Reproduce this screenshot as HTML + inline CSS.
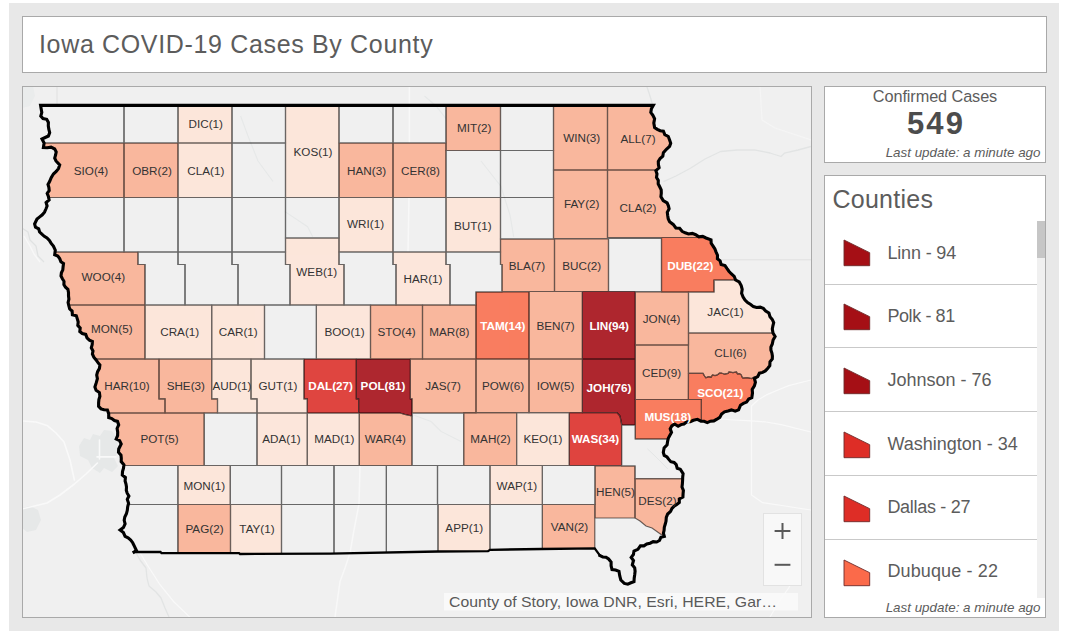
<!DOCTYPE html>
<html><head><meta charset="utf-8"><title>Iowa COVID-19 Cases By County</title>
<style>
html,body{margin:0;padding:0;}
body{width:1067px;height:637px;background:#fff;position:relative;overflow:hidden;font-family:"Liberation Sans",sans-serif;color:#4c4c4c;}
#bg{position:absolute;left:9px;top:3px;width:1050px;height:628px;background:#e8e8e8;}
.box{position:absolute;background:#fff;border:1px solid #a9a9a9;box-sizing:border-box;overflow:hidden;}
#title{left:22px;top:16px;width:1025px;height:57px;}
#title span{position:absolute;left:16px;top:12px;font-size:25px;line-height:30px;white-space:nowrap;color:#5c5c5c;letter-spacing:0.66px;}
#map{left:22px;top:86px;width:790px;height:532px;background:#f0f0f0;}
#cases{left:824px;top:86px;width:222px;height:77px;text-align:center;}
#cases .h{position:absolute;left:0;width:220px;top:0px;font-size:16.3px;line-height:18px;color:#5c5c5c;letter-spacing:-0.1px;}
#cases .n{position:absolute;left:0;width:220px;top:19px;font-size:31px;line-height:36px;font-weight:bold;color:#4c4c4c;letter-spacing:2.1px;text-indent:2.1px;}
.upd{position:absolute;right:4.5px;font-size:13.4px;line-height:14px;font-style:italic;color:#5c5c5c;white-space:nowrap;}
#list{left:824px;top:175px;width:222px;height:443px;}
#list .hd{position:absolute;left:7.5px;top:7.8px;font-size:25px;line-height:30px;color:#5c5c5c;letter-spacing:0.25px;}
.sep{position:absolute;left:0;width:212px;height:1px;background:#c9c9c9;}
.rt{position:absolute;left:62.4px;font-size:18px;line-height:22px;color:#5c5c5c;white-space:nowrap;letter-spacing:-0.15px;}
#track{position:absolute;left:212px;top:45px;width:8px;height:377px;background:#f0f0f0;}
#thumb{position:absolute;left:212px;top:45px;width:8px;height:37px;background:#c6c6c6;}
</style></head><body>
<div id="bg"></div>
<div class="box" id="title"><span>Iowa COVID-19 Cases By County</span></div>
<div class="box" id="map">
<div style="position:absolute;left:-1px;top:-1px;width:789px;height:531px;"><svg width="789" height="531" viewBox="22 86 789 531" style="position:absolute;left:0;top:0">
<defs><clipPath id="st"><polygon points="40.6,105.4 41.2,108.9 41.8,112.4 40.8,116.0 43.0,118.5 46.7,119.3 48.4,122.4 48.3,125.8 48.8,129.2 49.7,132.6 48.4,136.0 45.2,137.5 42.0,139.0 44.1,143.0 43.4,147.5 47.2,147.8 51.1,147.2 54.7,149.0 56.2,151.9 55.6,155.0 54.7,158.1 56.0,161.0 59.7,165.0 58.5,168.6 56.2,171.5 53.4,174.0 51.2,177.6 49.6,181.5 48.0,184.4 48.9,187.5 49.2,190.5 47.2,193.4 48.4,196.5 49.1,199.9 46.1,202.5 47.1,206.0 45.9,209.0 44.5,212.2 42.3,214.8 39.7,216.9 37.0,219.0 34.6,224.0 35.5,227.2 38.7,228.8 39.6,232.0 41.9,234.2 44.3,236.3 47.0,238.0 49.4,240.4 51.2,243.4 53.4,246.0 55.3,250.2 54.7,254.8 57.8,256.1 59.7,258.6 60.9,261.8 63.5,263.6 63.1,266.7 62.8,269.9 61.4,272.8 61.0,276.0 62.4,278.7 64.0,281.3 63.9,284.6 65.5,287.2 67.9,289.4 68.5,292.5 68.5,295.8 68.9,299.1 68.1,302.4 68.8,305.7 69.7,308.9 72.1,311.0 72.4,314.8 76.3,315.7 77.3,318.9 78.2,322.0 77.8,325.4 80.2,328.1 79.8,331.5 82.3,333.5 85.7,334.4 87.0,337.9 89.4,340.1 92.4,341.5 92.2,344.6 91.3,347.8 93.0,350.9 92.4,354.0 93.8,357.1 95.9,359.7 97.8,362.4 99.9,365.0 99.4,368.4 97.6,371.7 96.7,375.0 97.4,378.7 96.2,382.9 94.9,387.0 96.1,390.3 99.4,392.6 99.9,396.3 98.9,399.6 98.6,402.9 98.6,406.3 101.0,408.9 104.1,409.7 107.4,410.0 108.7,413.7 108.7,417.6 111.8,418.6 114.4,420.6 117.5,421.4 118.7,425.0 117.1,428.4 117.7,432.0 117.6,435.6 116.2,439.0 119.6,440.6 121.2,444.0 118.7,449.0 118.5,452.3 121.0,455.1 121.3,458.3 121.2,461.6 123.9,464.8 123.5,468.3 122.5,471.6 122.3,475.0 125.4,477.5 125.1,481.0 126.0,484.0 126.5,487.0 126.3,490.3 127.2,493.2 128.9,496.0 127.3,499.4 128.6,503.2 127.7,506.7 127.3,510.3 126.4,513.8 124.8,517.0 124.2,520.3 125.1,523.8 123.4,527.6 120.1,530.0 123.4,532.6 125.1,536.4 128.1,537.9 130.7,540.0 132.7,542.7 134.6,546.6 136.4,550.5 134.0,552.0 160.5,552.0 161.5,553.2 239.0,553.2 240.0,554.0 330.0,553.6 438.0,551.5 488.0,551.2 490.0,549.8 542.0,549.0 594.7,548.3 600.0,555.6 602.8,557.0 606.0,557.2 608.6,559.0 611.1,562.0 611.1,565.9 612.0,569.5 615.6,570.0 619.0,571.3 619.7,575.7 620.8,580.0 624.3,583.4 627.8,584.2 630.9,582.8 634.0,581.7 634.2,578.2 634.7,574.8 635.1,571.3 634.7,567.8 632.3,564.8 633.5,560.5 631.2,557.4 633.4,554.5 634.0,551.0 637.9,549.3 640.4,545.8 643.9,545.9 646.8,544.0 650.1,543.2 653.2,541.6 656.7,542.0 659.5,540.5 661.0,537.2 664.3,536.4 663.4,533.2 664.1,530.3 664.3,527.2 665.2,524.3 666.0,521.3 666.3,517.4 667.7,514.0 670.6,511.3 672.0,508.4 674.1,506.1 676.8,504.4 679.3,502.5 679.3,499.0 682.9,497.1 683.1,493.7 683.4,490.4 682.0,487.0 682.4,483.6 682.6,480.3 682.7,477.0 683.1,473.6 680.3,469.2 677.2,468.2 676.2,464.6 674.1,462.4 670.8,461.7 668.8,459.4 667.0,457.0 664.2,455.4 663.3,452.3 664.1,448.0 667.1,444.7 667.6,441.4 668.3,438.2 669.9,435.3 671.5,432.4 670.2,428.8 671.8,425.9 674.6,424.0 678.1,426.3 681.0,424.6 684.0,424.0 686.7,421.8 690.3,421.7 693.4,420.3 697.4,419.3 701.0,421.2 704.1,421.3 707.3,422.6 710.4,421.2 713.9,420.9 716.9,419.2 719.8,417.4 721.6,414.1 724.5,411.8 728.0,410.9 731.4,409.9 735.2,411.2 738.6,409.9 740.5,405.2 743.4,403.4 746.6,402.1 748.7,399.1 751.8,397.7 752.5,393.0 752.2,389.3 754.4,385.9 755.4,382.3 754.4,378.5 757.7,376.6 759.4,373.2 762.6,372.4 765.3,370.9 767.6,368.5 769.8,365.7 770.0,361.8 772.3,359.0 772.4,356.0 771.9,353.0 770.9,350.0 770.9,347.0 772.3,344.0 773.1,340.0 775.1,336.5 773.0,333.0 772.3,329.0 772.9,325.8 773.7,322.7 772.3,319.5 770.0,316.8 768.9,313.0 765.7,311.0 763.3,308.4 760.2,307.1 756.5,307.5 753.4,306.6 750.7,304.5 747.6,302.6 745.0,300.1 743.1,297.0 741.6,293.3 742.2,289.3 741.2,285.6 739.2,282.0 735.6,280.0 734.2,276.3 731.2,273.7 728.9,271.2 726.9,268.4 725.0,265.6 721.1,264.5 720.1,260.9 717.4,258.7 717.5,255.2 716.1,252.1 714.9,249.0 713.1,246.1 711.2,243.3 711.0,239.8 706.0,238.0 702.7,236.4 698.9,236.9 695.7,234.7 692.3,233.4 688.5,234.0 685.2,232.8 682.1,231.3 679.6,228.3 675.9,228.0 673.2,224.4 669.6,221.7 668.2,218.7 667.7,215.5 667.3,212.4 669.1,208.9 668.4,205.8 667.1,202.8 663.2,200.5 660.9,196.6 661.3,193.2 661.2,189.9 659.7,186.8 658.2,183.8 658.3,180.4 656.5,177.4 657.0,174.0 655.9,170.7 659.1,167.8 658.4,164.6 658.3,161.4 660.1,158.5 662.8,156.2 663.4,152.6 666.4,149.3 669.6,146.3 670.7,143.2 669.6,140.0 668.3,136.5 664.8,134.6 663.4,131.2 660.2,130.7 657.3,129.3 654.6,127.5 653.8,123.1 654.6,118.7 652.9,115.4 650.8,112.4 651.4,108.7 653.3,105.4"/></clipPath></defs>
<rect x="22" y="86" width="789" height="531" fill="#f0f0f0"/>
<g fill="#e6e8e8" stroke="none"><path d="M79 446 L84 438 L90 440 L93 434 L100 436 L104 430 L112 431 L117 438 L118 452 L114 458 L118 466 L112 472 L104 468 L100 473 L92 468 L88 460 L80 456 Z"/><path d="M22 508 L30 506 L38 510 L41 520 L36 530 L27 532 L22 528 Z"/><path d="M22 86 L33 86 L35 96 L30 106 L22 108 Z" fill="#eaecec"/></g>
<g fill="none" stroke="#e2e4e4" stroke-width="1.3" stroke-linejoin="round"><path d="M135 551 L140 560 L146 568 L147 578 L149 586 L156 592 L161 598 L165 608 L169 617"/><path d="M57 86 L57 105" stroke="#e4e4e4"/><path d="M646.7 86 L650 96 L652.8 105.5"/><path d="M663.5 181.7 L676 176 L690.4 168.3 L705 159 L720.6 151.5 L737 150 L754.2 149.8 L770 153 L781 156.5 L784.4 153.2 L798 150 L811 146.5"/><path d="M719 259.7 L811 259.7" stroke="#e5e5e5" stroke-width="1.6"/><path d="M22 228 L28 232 L30 240 L36 246 L38 256 L44 262" stroke="#e0e2e2"/><path d="M24 236 L30 246 L34 254 L40 262" stroke="#f8f8f8"/><path d="M647.4 448.8 L655 456 L662 463 L667.9 469" stroke="#e4e6e6" stroke-width="1"/></g>
<g fill="none" stroke="#f9f9f9" stroke-width="1.6" stroke-linejoin="round" stroke-linecap="round"><path d="M97.4 463 L86 474 L74.4 484 L60 495 L47 503 L22 509"/><path d="M22 421 L36 422 L47 425.4 L56 433 L64 442 L70 460 L74.4 480"/><path d="M99.5 440 L99.5 459 M97 456.9 L116 456.9"/><path d="M139 551 L148 566 L160 584.7 L174 602 L189.6 617" stroke-width="1.2"/><path d="M751.5 406 L758 400 L766.4 394.9 L778 390 L788.7 385.6 L811 380" stroke-width="1.2"/><path d="M720 419 L735 420 L751.5 420.9 L766 422 L781.3 424.6 L811 432" stroke-width="1.2"/><path d="M751.5 406 L751.5 495 L762.7 502.7 L785 506 L811 510" stroke-width="1.2"/><path d="M770 617 L780 600 L788.7 588 L796 573 L800 560" stroke-width="1.2"/><path d="M760 86 L762 120 L775 128 L811 140" stroke="#f5f5f5" stroke-width="1.2"/></g>
<g fill="none" stroke="#f8f8f8" stroke-width="1.5" clip-path="url(#st)"><path d="M409.4 86 L409.4 143 M409 197.5 L408 252"/><path d="M360 466 L359 504 L354 530 L350 553"/></g>
<path d="M350 553 L345 568 L340 581.6 L335 617" fill="none" stroke="#f8f8f8" stroke-width="1.5"/>
<path d="M409.4 86 L409.4 105" fill="none" stroke="#f8f8f8" stroke-width="1.5"/>
<g fill="none" stroke="#e6e8e8" stroke-width="1.1"><path d="M240.6 116 L248 136 L258 161 L273 181.5"/><path d="M285 211.6 L307.6 226.7 L312.7 236.8"/><path d="M424.5 96 L436 106 L446 118.7"/><path d="M481 161 L501 186.5 L510 215 L513.7 236.8"/><path d="M413.4 415 L431 421.4 L441 431.4 L461 441.5"/></g>
<g clip-path="url(#st)">
<polygon points="178.0,80.0 232.0,80.0 232.0,143.0 178.0,143.0" fill="#fce6db"/>
<polygon points="285.5,80.0 339.0,80.0 339.0,197.5 285.5,197.5" fill="#fce6db"/>
<polygon points="446.0,80.0 500.5,80.0 500.5,150.5 446.0,150.5" fill="#f9b79d"/>
<polygon points="553.5,80.0 607.5,80.0 607.5,170.0 553.5,170.0" fill="#f9b79d"/>
<polygon points="607.5,80.0 830.0,80.0 830.0,170.0 607.5,170.0" fill="#f9b79d"/>
<polygon points="-20.0,143.0 124.0,143.0 124.0,197.5 -20.0,197.5" fill="#f9b79d"/>
<polygon points="124.0,143.0 178.0,143.0 178.0,197.5 124.0,197.5" fill="#f9b79d"/>
<polygon points="178.0,143.0 232.0,143.0 232.0,197.5 178.0,197.5" fill="#fce6db"/>
<polygon points="339.0,143.0 393.0,143.0 393.0,197.5 339.0,197.5" fill="#f9b79d"/>
<polygon points="393.0,143.0 446.0,143.0 446.0,197.5 393.0,197.5" fill="#f9b79d"/>
<polygon points="553.5,170.0 607.5,170.0 607.5,238.5 553.5,238.5" fill="#f9b79d"/>
<polygon points="607.5,170.0 830.0,170.0 830.0,237.5 607.5,237.5" fill="#f9b79d"/>
<polygon points="339.0,197.5 393.0,197.5 393.0,252.0 339.0,252.0" fill="#fce6db"/>
<polygon points="446.0,197.5 500.5,197.5 500.5,252.0 446.0,252.0" fill="#fce6db"/>
<polygon points="-20.0,252.0 138.0,252.0 138.0,264.5 145.0,264.5 145.0,305.0 -20.0,305.0" fill="#f9b79d"/>
<polygon points="285.5,238.0 339.0,238.0 339.0,264.5 344.0,264.5 344.0,305.0 290.0,305.0 290.0,264.5 285.5,264.5" fill="#fce6db"/>
<polygon points="393.0,252.0 446.0,252.0 446.0,264.5 450.0,264.5 450.0,305.0 396.0,305.0 396.0,264.5 393.0,264.5" fill="#fce6db"/>
<polygon points="500.5,239.0 554.5,239.0 554.5,291.5 502.0,291.5 502.0,264.5 500.5,264.5" fill="#f9b79d"/>
<polygon points="554.5,239.0 608.5,239.0 608.5,291.5 554.5,291.5" fill="#f9b79d"/>
<polygon points="661.5,237.5 830.0,237.5 830.0,280.0 714.0,280.0 714.0,292.0 661.5,292.0" fill="#f97d60"/>
<polygon points="688.5,292.0 714.0,292.0 714.0,280.0 830.0,280.0 830.0,333.0 688.5,333.0" fill="#fce6db"/>
<polygon points="-20.0,305.0 145.0,305.0 145.0,359.0 -20.0,359.0" fill="#f9b79d"/>
<polygon points="145.0,305.0 211.7,305.0 211.7,359.0 145.0,359.0" fill="#fce6db"/>
<polygon points="211.7,305.0 264.5,305.0 264.5,359.0 211.7,359.0" fill="#fce6db"/>
<polygon points="316.4,305.0 370.5,305.0 370.5,359.0 316.4,359.0" fill="#fce6db"/>
<polygon points="370.5,305.0 422.5,305.0 422.5,359.0 370.5,359.0" fill="#f9b79d"/>
<polygon points="422.5,305.0 476.0,305.0 476.0,359.0 422.5,359.0" fill="#f9b79d"/>
<polygon points="476.0,292.0 529.0,292.0 529.0,359.0 476.0,359.0" fill="#f97d60"/>
<polygon points="529.0,291.5 582.4,291.5 582.4,359.0 529.0,359.0" fill="#f9b79d"/>
<polygon points="582.4,291.5 635.3,291.5 635.3,359.0 582.4,359.0" fill="#ae272f"/>
<polygon points="635.3,292.0 688.5,292.0 688.5,345.0 635.3,345.0" fill="#f9b79d"/>
<polygon points="-20.0,359.0 159.0,359.0 159.0,398.8 165.0,398.8 165.0,413.0 -20.0,413.0" fill="#f9b79d"/>
<polygon points="159.0,359.0 211.7,359.0 211.7,398.8 217.5,398.8 217.5,413.0 165.0,413.0 165.0,398.8 159.0,398.8" fill="#f9b79d"/>
<polygon points="211.7,359.0 251.0,359.0 251.0,398.8 257.0,398.8 257.0,413.0 217.5,413.0 217.5,398.8 211.7,398.8" fill="#fce6db"/>
<polygon points="251.0,359.0 304.0,359.0 304.0,398.8 307.3,398.8 307.3,413.0 257.0,413.0 257.0,398.8 251.0,398.8" fill="#fce6db"/>
<polygon points="304.0,359.0 356.3,359.0 356.3,398.8 358.6,398.8 358.6,413.0 307.3,413.0 307.3,398.8 304.0,398.8" fill="#df4540"/>
<polygon points="356.3,359.0 410.4,359.0 410.4,398.8 412.0,398.8 412.0,416.0 405.0,414.5 400.0,413.0 358.6,413.0 358.6,398.8 356.3,398.8" fill="#ae272f"/>
<polygon points="410.4,359.0 476.0,359.0 476.0,413.0 412.0,413.0 412.0,398.8 410.4,398.8" fill="#f9b79d"/>
<polygon points="476.0,359.0 529.0,359.0 529.0,412.6 476.0,412.6" fill="#f9b79d"/>
<polygon points="529.0,359.0 582.4,359.0 582.4,412.6 529.0,412.6" fill="#f9b79d"/>
<polygon points="582.4,359.0 635.3,359.0 635.3,425.0 622.0,425.0 620.0,416.0 617.0,412.6 582.4,412.6" fill="#ae272f"/>
<polygon points="635.3,345.0 688.4,345.0 688.4,399.5 635.3,399.5" fill="#f9b79d"/>
<polygon points="688.5,333.0 830.0,333.0 830.0,379.0 760.0,378.0 754.4,377.0 751.6,378.6 747.0,377.6 743.0,378.2 742.0,377.0 741.2,374.8 739.5,373.6 737.4,373.8 736.5,372.0 733.0,372.6 729.0,372.0 728.0,373.4 724.5,374.2 721.4,373.0 719.5,373.2 717.7,374.8 715.0,375.6 712.5,375.0 711.0,377.2 708.5,376.6 705.9,377.8 704.5,376.0 703.0,373.4 688.5,373.4" fill="#f9b79d"/>
<polygon points="688.5,373.4 703.0,373.4 704.5,376.0 705.9,377.8 708.5,376.6 711.0,377.2 712.5,375.0 715.0,375.6 717.7,374.8 719.5,373.2 721.4,373.0 724.5,374.2 728.0,373.4 729.0,372.0 733.0,372.6 736.5,372.0 737.4,373.8 739.5,373.6 741.2,374.8 742.0,377.0 743.0,378.2 747.0,377.6 751.6,378.6 754.4,377.0 760.0,378.0 830.0,379.0 830.0,430.0 701.4,430.0 701.4,399.5 688.4,399.5" fill="#f97d60"/>
<polygon points="635.3,399.5 701.4,399.5 701.4,430.0 830.0,430.0 830.0,439.0 635.3,439.0" fill="#f97d60"/>
<polygon points="-20.0,413.0 204.2,413.0 204.2,465.5 -20.0,465.5" fill="#f9b79d"/>
<polygon points="257.0,413.0 307.3,413.0 307.3,465.5 257.0,465.5" fill="#fce6db"/>
<polygon points="307.3,413.0 359.3,413.0 359.3,465.5 307.3,465.5" fill="#fce6db"/>
<polygon points="359.3,413.0 400.0,413.0 405.0,414.5 412.0,416.0 412.0,465.5 359.3,465.5" fill="#f9b79d"/>
<polygon points="463.7,412.6 516.6,412.6 516.6,465.5 463.7,465.5" fill="#f9b79d"/>
<polygon points="516.6,412.6 569.3,412.6 569.3,465.5 516.6,465.5" fill="#fce6db"/>
<polygon points="569.3,412.6 617.0,412.6 620.0,416.0 621.6,425.0 621.6,465.5 569.3,465.5" fill="#df4540"/>
<polygon points="177.9,465.5 230.3,465.5 230.3,504.5 177.9,504.5" fill="#fce6db"/>
<polygon points="490.0,465.5 542.4,465.5 542.4,504.5 490.0,504.5" fill="#fce6db"/>
<polygon points="595.0,466.0 635.0,466.0 635.0,518.0 595.0,518.0" fill="#f9b79d"/>
<polygon points="635.0,478.6 830.0,478.6 830.0,540.0 668.0,540.0 661.8,535.0 652.0,528.0 646.0,526.0 640.0,521.0 635.0,518.0" fill="#f9b79d"/>
<polygon points="177.9,504.5 230.5,504.5 230.5,600.0 177.9,600.0" fill="#f9b79d"/>
<polygon points="230.5,504.5 281.5,504.5 281.5,600.0 230.5,600.0" fill="#fce6db"/>
<polygon points="438.0,504.5 490.0,504.5 490.0,600.0 438.0,600.0" fill="#fce6db"/>
<polygon points="542.4,504.5 594.8,504.5 594.8,600.0 542.4,600.0" fill="#f9b79d"/>
<g fill="none" stroke="#000" opacity="0.57" stroke-width="1.2">
<polygon points="-20.0,80.0 124.0,80.0 124.0,143.0 -20.0,143.0"/>
<polygon points="124.0,80.0 178.0,80.0 178.0,143.0 124.0,143.0"/>
<polygon points="178.0,80.0 232.0,80.0 232.0,143.0 178.0,143.0"/>
<polygon points="232.0,80.0 285.5,80.0 285.5,143.0 232.0,143.0"/>
<polygon points="285.5,80.0 339.0,80.0 339.0,197.5 285.5,197.5"/>
<polygon points="339.0,80.0 393.0,80.0 393.0,143.0 339.0,143.0"/>
<polygon points="393.0,80.0 446.0,80.0 446.0,143.0 393.0,143.0"/>
<polygon points="446.0,80.0 500.5,80.0 500.5,150.5 446.0,150.5"/>
<polygon points="500.5,80.0 553.5,80.0 553.5,150.5 500.5,150.5"/>
<polygon points="553.5,80.0 607.5,80.0 607.5,170.0 553.5,170.0"/>
<polygon points="607.5,80.0 830.0,80.0 830.0,170.0 607.5,170.0"/>
<polygon points="-20.0,143.0 124.0,143.0 124.0,197.5 -20.0,197.5"/>
<polygon points="124.0,143.0 178.0,143.0 178.0,197.5 124.0,197.5"/>
<polygon points="178.0,143.0 232.0,143.0 232.0,197.5 178.0,197.5"/>
<polygon points="232.0,143.0 285.5,143.0 285.5,197.5 232.0,197.5"/>
<polygon points="339.0,143.0 393.0,143.0 393.0,197.5 339.0,197.5"/>
<polygon points="393.0,143.0 446.0,143.0 446.0,197.5 393.0,197.5"/>
<polygon points="446.0,150.5 500.5,150.5 500.5,197.5 446.0,197.5"/>
<polygon points="500.5,150.5 553.5,150.5 553.5,197.5 500.5,197.5"/>
<polygon points="553.5,170.0 607.5,170.0 607.5,238.5 553.5,238.5"/>
<polygon points="607.5,170.0 830.0,170.0 830.0,237.5 607.5,237.5"/>
<polygon points="-20.0,197.5 124.0,197.5 124.0,252.0 -20.0,252.0"/>
<polygon points="124.0,197.5 178.0,197.5 178.0,252.0 124.0,252.0"/>
<polygon points="178.0,197.5 232.0,197.5 232.0,252.0 178.0,252.0"/>
<polygon points="232.0,197.5 285.5,197.5 285.5,252.0 232.0,252.0"/>
<polygon points="285.5,197.5 339.0,197.5 339.0,238.0 285.5,238.0"/>
<polygon points="339.0,197.5 393.0,197.5 393.0,252.0 339.0,252.0"/>
<polygon points="393.0,197.5 446.0,197.5 446.0,252.0 393.0,252.0"/>
<polygon points="446.0,197.5 500.5,197.5 500.5,252.0 446.0,252.0"/>
<polygon points="500.5,197.5 553.5,197.5 553.5,239.0 500.5,239.0"/>
<polygon points="-20.0,252.0 138.0,252.0 138.0,264.5 145.0,264.5 145.0,305.0 -20.0,305.0"/>
<polygon points="138.0,252.0 178.0,252.0 178.0,264.5 185.0,264.5 185.0,305.0 145.0,305.0 145.0,264.5 138.0,264.5"/>
<polygon points="178.0,252.0 232.0,252.0 232.0,264.5 238.0,264.5 238.0,305.0 185.0,305.0 185.0,264.5 178.0,264.5"/>
<polygon points="232.0,252.0 285.5,252.0 285.5,264.5 290.0,264.5 290.0,305.0 238.0,305.0 238.0,264.5 232.0,264.5"/>
<polygon points="285.5,238.0 339.0,238.0 339.0,264.5 344.0,264.5 344.0,305.0 290.0,305.0 290.0,264.5 285.5,264.5"/>
<polygon points="339.0,252.0 393.0,252.0 393.0,264.5 396.0,264.5 396.0,305.0 344.0,305.0 344.0,264.5 339.0,264.5"/>
<polygon points="393.0,252.0 446.0,252.0 446.0,264.5 450.0,264.5 450.0,305.0 396.0,305.0 396.0,264.5 393.0,264.5"/>
<polygon points="446.0,252.0 500.5,252.0 500.5,264.5 502.0,264.5 502.0,292.0 476.0,292.0 476.0,305.0 450.0,305.0 450.0,264.5 446.0,264.5"/>
<polygon points="500.5,239.0 554.5,239.0 554.5,291.5 502.0,291.5 502.0,264.5 500.5,264.5"/>
<polygon points="554.5,239.0 608.5,239.0 608.5,291.5 554.5,291.5"/>
<polygon points="608.5,238.5 661.5,238.5 661.5,291.5 608.5,291.5"/>
<polygon points="661.5,237.5 830.0,237.5 830.0,280.0 714.0,280.0 714.0,292.0 661.5,292.0"/>
<polygon points="688.5,292.0 714.0,292.0 714.0,280.0 830.0,280.0 830.0,333.0 688.5,333.0"/>
<polygon points="-20.0,305.0 145.0,305.0 145.0,359.0 -20.0,359.0"/>
<polygon points="145.0,305.0 211.7,305.0 211.7,359.0 145.0,359.0"/>
<polygon points="211.7,305.0 264.5,305.0 264.5,359.0 211.7,359.0"/>
<polygon points="264.5,305.0 316.4,305.0 316.4,359.0 264.5,359.0"/>
<polygon points="316.4,305.0 370.5,305.0 370.5,359.0 316.4,359.0"/>
<polygon points="370.5,305.0 422.5,305.0 422.5,359.0 370.5,359.0"/>
<polygon points="422.5,305.0 476.0,305.0 476.0,359.0 422.5,359.0"/>
<polygon points="476.0,292.0 529.0,292.0 529.0,359.0 476.0,359.0"/>
<polygon points="529.0,291.5 582.4,291.5 582.4,359.0 529.0,359.0"/>
<polygon points="582.4,291.5 635.3,291.5 635.3,359.0 582.4,359.0"/>
<polygon points="635.3,292.0 688.5,292.0 688.5,345.0 635.3,345.0"/>
<polygon points="-20.0,359.0 159.0,359.0 159.0,398.8 165.0,398.8 165.0,413.0 -20.0,413.0"/>
<polygon points="159.0,359.0 211.7,359.0 211.7,398.8 217.5,398.8 217.5,413.0 165.0,413.0 165.0,398.8 159.0,398.8"/>
<polygon points="211.7,359.0 251.0,359.0 251.0,398.8 257.0,398.8 257.0,413.0 217.5,413.0 217.5,398.8 211.7,398.8"/>
<polygon points="251.0,359.0 304.0,359.0 304.0,398.8 307.3,398.8 307.3,413.0 257.0,413.0 257.0,398.8 251.0,398.8"/>
<polygon points="304.0,359.0 356.3,359.0 356.3,398.8 358.6,398.8 358.6,413.0 307.3,413.0 307.3,398.8 304.0,398.8"/>
<polygon points="356.3,359.0 410.4,359.0 410.4,398.8 412.0,398.8 412.0,416.0 405.0,414.5 400.0,413.0 358.6,413.0 358.6,398.8 356.3,398.8"/>
<polygon points="410.4,359.0 476.0,359.0 476.0,413.0 412.0,413.0 412.0,398.8 410.4,398.8"/>
<polygon points="476.0,359.0 529.0,359.0 529.0,412.6 476.0,412.6"/>
<polygon points="529.0,359.0 582.4,359.0 582.4,412.6 529.0,412.6"/>
<polygon points="582.4,359.0 635.3,359.0 635.3,425.0 622.0,425.0 620.0,416.0 617.0,412.6 582.4,412.6"/>
<polygon points="635.3,345.0 688.4,345.0 688.4,399.5 635.3,399.5"/>
<polygon points="688.5,333.0 830.0,333.0 830.0,379.0 760.0,378.0 754.4,377.0 751.6,378.6 747.0,377.6 743.0,378.2 742.0,377.0 741.2,374.8 739.5,373.6 737.4,373.8 736.5,372.0 733.0,372.6 729.0,372.0 728.0,373.4 724.5,374.2 721.4,373.0 719.5,373.2 717.7,374.8 715.0,375.6 712.5,375.0 711.0,377.2 708.5,376.6 705.9,377.8 704.5,376.0 703.0,373.4 688.5,373.4"/>
<polygon points="688.5,373.4 703.0,373.4 704.5,376.0 705.9,377.8 708.5,376.6 711.0,377.2 712.5,375.0 715.0,375.6 717.7,374.8 719.5,373.2 721.4,373.0 724.5,374.2 728.0,373.4 729.0,372.0 733.0,372.6 736.5,372.0 737.4,373.8 739.5,373.6 741.2,374.8 742.0,377.0 743.0,378.2 747.0,377.6 751.6,378.6 754.4,377.0 760.0,378.0 830.0,379.0 830.0,430.0 701.4,430.0 701.4,399.5 688.4,399.5"/>
<polygon points="635.3,399.5 701.4,399.5 701.4,430.0 830.0,430.0 830.0,439.0 635.3,439.0"/>
<polygon points="-20.0,413.0 204.2,413.0 204.2,465.5 -20.0,465.5"/>
<polygon points="204.2,413.0 257.0,413.0 257.0,465.5 204.2,465.5"/>
<polygon points="257.0,413.0 307.3,413.0 307.3,465.5 257.0,465.5"/>
<polygon points="307.3,413.0 359.3,413.0 359.3,465.5 307.3,465.5"/>
<polygon points="359.3,413.0 400.0,413.0 405.0,414.5 412.0,416.0 412.0,465.5 359.3,465.5"/>
<polygon points="412.0,413.0 463.7,413.0 463.7,465.5 412.0,465.5"/>
<polygon points="463.7,412.6 516.6,412.6 516.6,465.5 463.7,465.5"/>
<polygon points="516.6,412.6 569.3,412.6 569.3,465.5 516.6,465.5"/>
<polygon points="569.3,412.6 617.0,412.6 620.0,416.0 621.6,425.0 621.6,465.5 569.3,465.5"/>
<polygon points="621.6,425.0 635.3,425.0 635.3,439.0 830.0,439.0 830.0,478.6 635.0,478.6 635.0,466.0 621.6,466.0"/>
<polygon points="-20.0,465.5 177.9,465.5 177.9,504.5 -20.0,504.5"/>
<polygon points="177.9,465.5 230.3,465.5 230.3,504.5 177.9,504.5"/>
<polygon points="230.3,465.5 281.5,465.5 281.5,504.5 230.3,504.5"/>
<polygon points="281.5,465.5 334.0,465.5 334.0,504.5 281.5,504.5"/>
<polygon points="334.0,465.5 386.4,465.5 386.4,504.5 334.0,504.5"/>
<polygon points="386.4,465.5 437.5,465.5 437.5,504.5 386.4,504.5"/>
<polygon points="437.5,465.5 490.0,465.5 490.0,504.5 437.5,504.5"/>
<polygon points="490.0,465.5 542.4,465.5 542.4,504.5 490.0,504.5"/>
<polygon points="542.4,465.5 595.0,465.5 595.0,504.5 542.4,504.5"/>
<polygon points="595.0,466.0 635.0,466.0 635.0,518.0 595.0,518.0"/>
<polygon points="635.0,478.6 830.0,478.6 830.0,540.0 668.0,540.0 661.8,535.0 652.0,528.0 646.0,526.0 640.0,521.0 635.0,518.0"/>
<polygon points="-20.0,504.5 177.9,504.5 177.9,600.0 -20.0,600.0"/>
<polygon points="177.9,504.5 230.5,504.5 230.5,600.0 177.9,600.0"/>
<polygon points="230.5,504.5 281.5,504.5 281.5,600.0 230.5,600.0"/>
<polygon points="281.5,504.5 334.0,504.5 334.0,600.0 281.5,600.0"/>
<polygon points="334.0,504.5 386.4,504.5 386.4,600.0 334.0,600.0"/>
<polygon points="386.4,504.5 438.0,504.5 438.0,600.0 386.4,600.0"/>
<polygon points="438.0,504.5 490.0,504.5 490.0,600.0 438.0,600.0"/>
<polygon points="490.0,504.5 542.4,504.5 542.4,600.0 490.0,600.0"/>
<polygon points="542.4,504.5 594.8,504.5 594.8,600.0 542.4,600.0"/>
</g></g>
<polyline points="134.0,552.0 160.5,552.0 161.5,553.2 239.0,553.2 240.0,554.0 330.0,553.6 438.0,551.5 488.0,551.2 490.0,549.8 542.0,549.0 594.7,548.3 600.0,555.6" fill="none" stroke="#000" stroke-width="2.3" stroke-linejoin="miter"/>
<polyline points="600.0,555.6 602.8,557.0 606.0,557.2 608.6,559.0 611.1,562.0 611.1,565.9 612.0,569.5 615.6,570.0 619.0,571.3 619.7,575.7 620.8,580.0 624.3,583.4 627.8,584.2 630.9,582.8 634.0,581.7 634.2,578.2 634.7,574.8 635.1,571.3 634.7,567.8 632.3,564.8 633.5,560.5 631.2,557.4 633.4,554.5 634.0,551.0 637.9,549.3 640.4,545.8 643.9,545.9 646.8,544.0 650.1,543.2 653.2,541.6 656.7,542.0 659.5,540.5 661.0,537.2 664.3,536.4 663.4,533.2 664.1,530.3 664.3,527.2 665.2,524.3 666.0,521.3 666.3,517.4 667.7,514.0 670.6,511.3 672.0,508.4 674.1,506.1 676.8,504.4 679.3,502.5 679.3,499.0 682.9,497.1 683.1,493.7 683.4,490.4 682.0,487.0 682.4,483.6 682.6,480.3 682.7,477.0 683.1,473.6 680.3,469.2 677.2,468.2 676.2,464.6 674.1,462.4 670.8,461.7 668.8,459.4 667.0,457.0 664.2,455.4 663.3,452.3 664.1,448.0 667.1,444.7 667.6,441.4 668.3,438.2 669.9,435.3 671.5,432.4 670.2,428.8 671.8,425.9 674.6,424.0 678.1,426.3 681.0,424.6 684.0,424.0 686.7,421.8 690.3,421.7 693.4,420.3 697.4,419.3 701.0,421.2 704.1,421.3 707.3,422.6 710.4,421.2 713.9,420.9 716.9,419.2 719.8,417.4 721.6,414.1 724.5,411.8 728.0,410.9 731.4,409.9 735.2,411.2 738.6,409.9 740.5,405.2 743.4,403.4 746.6,402.1 748.7,399.1 751.8,397.7 752.5,393.0 752.2,389.3 754.4,385.9 755.4,382.3 754.4,378.5 757.7,376.6 759.4,373.2 762.6,372.4 765.3,370.9 767.6,368.5 769.8,365.7 770.0,361.8 772.3,359.0 772.4,356.0 771.9,353.0 770.9,350.0 770.9,347.0 772.3,344.0 773.1,340.0 775.1,336.5 773.0,333.0 772.3,329.0 772.9,325.8 773.7,322.7 772.3,319.5 770.0,316.8 768.9,313.0 765.7,311.0 763.3,308.4 760.2,307.1 756.5,307.5 753.4,306.6 750.7,304.5 747.6,302.6 745.0,300.1 743.1,297.0 741.6,293.3 742.2,289.3 741.2,285.6 739.2,282.0 735.6,280.0 734.2,276.3 731.2,273.7 728.9,271.2 726.9,268.4 725.0,265.6 721.1,264.5 720.1,260.9 717.4,258.7 717.5,255.2 716.1,252.1 714.9,249.0 713.1,246.1 711.2,243.3 711.0,239.8 706.0,238.0 702.7,236.4 698.9,236.9 695.7,234.7 692.3,233.4 688.5,234.0 685.2,232.8 682.1,231.3 679.6,228.3 675.9,228.0 673.2,224.4 669.6,221.7 668.2,218.7 667.7,215.5 667.3,212.4 669.1,208.9 668.4,205.8 667.1,202.8 663.2,200.5 660.9,196.6 661.3,193.2 661.2,189.9 659.7,186.8 658.2,183.8 658.3,180.4 656.5,177.4 657.0,174.0 655.9,170.7 659.1,167.8 658.4,164.6 658.3,161.4 660.1,158.5 662.8,156.2 663.4,152.6 666.4,149.3 669.6,146.3 670.7,143.2 669.6,140.0 668.3,136.5 664.8,134.6 663.4,131.2 660.2,130.7 657.3,129.3 654.6,127.5 653.8,123.1 654.6,118.7 652.9,115.4 650.8,112.4 651.4,108.7 653.3,105.4 40.6,105.4 41.2,108.9 41.8,112.4 40.8,116.0 43.0,118.5 46.7,119.3 48.4,122.4 48.3,125.8 48.8,129.2 49.7,132.6 48.4,136.0 45.2,137.5 42.0,139.0 44.1,143.0 43.4,147.5 47.2,147.8 51.1,147.2 54.7,149.0 56.2,151.9 55.6,155.0 54.7,158.1 56.0,161.0 59.7,165.0 58.5,168.6 56.2,171.5 53.4,174.0 51.2,177.6 49.6,181.5 48.0,184.4 48.9,187.5 49.2,190.5 47.2,193.4 48.4,196.5 49.1,199.9 46.1,202.5 47.1,206.0 45.9,209.0 44.5,212.2 42.3,214.8 39.7,216.9 37.0,219.0 34.6,224.0 35.5,227.2 38.7,228.8 39.6,232.0 41.9,234.2 44.3,236.3 47.0,238.0 49.4,240.4 51.2,243.4 53.4,246.0 55.3,250.2 54.7,254.8 57.8,256.1 59.7,258.6 60.9,261.8 63.5,263.6 63.1,266.7 62.8,269.9 61.4,272.8 61.0,276.0 62.4,278.7 64.0,281.3 63.9,284.6 65.5,287.2 67.9,289.4 68.5,292.5 68.5,295.8 68.9,299.1 68.1,302.4 68.8,305.7 69.7,308.9 72.1,311.0 72.4,314.8 76.3,315.7 77.3,318.9 78.2,322.0 77.8,325.4 80.2,328.1 79.8,331.5 82.3,333.5 85.7,334.4 87.0,337.9 89.4,340.1 92.4,341.5 92.2,344.6 91.3,347.8 93.0,350.9 92.4,354.0 93.8,357.1 95.9,359.7 97.8,362.4 99.9,365.0 99.4,368.4 97.6,371.7 96.7,375.0 97.4,378.7 96.2,382.9 94.9,387.0 96.1,390.3 99.4,392.6 99.9,396.3 98.9,399.6 98.6,402.9 98.6,406.3 101.0,408.9 104.1,409.7 107.4,410.0 108.7,413.7 108.7,417.6 111.8,418.6 114.4,420.6 117.5,421.4 118.7,425.0 117.1,428.4 117.7,432.0 117.6,435.6 116.2,439.0 119.6,440.6 121.2,444.0 118.7,449.0 118.5,452.3 121.0,455.1 121.3,458.3 121.2,461.6 123.9,464.8 123.5,468.3 122.5,471.6 122.3,475.0 125.4,477.5 125.1,481.0 126.0,484.0 126.5,487.0 126.3,490.3 127.2,493.2 128.9,496.0 127.3,499.4 128.6,503.2 127.7,506.7 127.3,510.3 126.4,513.8 124.8,517.0 124.2,520.3 125.1,523.8 123.4,527.6 120.1,530.0 123.4,532.6 125.1,536.4 128.1,537.9 130.7,540.0 132.7,542.7 134.6,546.6 136.4,550.5 134.0,552.0" fill="none" stroke="#000" stroke-width="3.1" stroke-linejoin="miter" stroke-linecap="square"/>
<g font-family="Liberation Sans, sans-serif" font-size="11.7" text-anchor="middle">
<text x="205.8" y="127.8" fill="#333">DIC(1)</text>
<text x="91" y="175.0" fill="#333">SIO(4)</text>
<text x="152" y="175.0" fill="#333">OBR(2)</text>
<text x="205.8" y="175.0" fill="#333">CLA(1)</text>
<text x="313" y="156.0" fill="#333">KOS(1)</text>
<text x="366.6" y="175.0" fill="#333">HAN(3)</text>
<text x="420.5" y="175.0" fill="#333">CER(8)</text>
<text x="474.3" y="131.7" fill="#333">MIT(2)</text>
<text x="581.7" y="141.6" fill="#333">WIN(3)</text>
<text x="638" y="142.6" fill="#333">ALL(7)</text>
<text x="365.6" y="227.8" fill="#333">WRI(1)</text>
<text x="472.8" y="229.6" fill="#333">BUT(1)</text>
<text x="581.7" y="207.7" fill="#333">FAY(2)</text>
<text x="638" y="212.0" fill="#333">CLA(2)</text>
<text x="316.8" y="275.8" fill="#333">WEB(1)</text>
<text x="423" y="282.5" fill="#333">HAR(1)</text>
<text x="527" y="269.7" fill="#333">BLA(7)</text>
<text x="581.7" y="269.7" fill="#333">BUC(2)</text>
<text x="690.3" y="269.7" fill="#fff" font-weight="bold">DUB(22)</text>
<text x="103.3" y="281.3" fill="#333">WOO(4)</text>
<text x="111.8" y="333.0" fill="#333">MON(5)</text>
<text x="179.7" y="335.7" fill="#333">CRA(1)</text>
<text x="238.2" y="335.7" fill="#333">CAR(1)</text>
<text x="344.6" y="335.7" fill="#333">BOO(1)</text>
<text x="396.6" y="335.7" fill="#333">STO(4)</text>
<text x="449.3" y="335.7" fill="#333">MAR(8)</text>
<text x="502.8" y="329.5" fill="#fff" font-weight="bold">TAM(14)</text>
<text x="555.6" y="329.6" fill="#333">BEN(7)</text>
<text x="609.2" y="329.6" fill="#fff" font-weight="bold">LIN(94)</text>
<text x="661.6" y="323.0" fill="#333">JON(4)</text>
<text x="725.5" y="316.2" fill="#333">JAC(1)</text>
<text x="730.5" y="356.9" fill="#333">CLI(6)</text>
<text x="127" y="390.0" fill="#333">HAR(10)</text>
<text x="185.8" y="390.0" fill="#333">SHE(3)</text>
<text x="232" y="390.0" fill="#333">AUD(1)</text>
<text x="278" y="390.0" fill="#333">GUT(1)</text>
<text x="330.6" y="390.0" fill="#fff" font-weight="bold">DAL(27)</text>
<text x="383" y="390.0" fill="#fff" font-weight="bold">POL(81)</text>
<text x="443" y="390.0" fill="#333">JAS(7)</text>
<text x="503" y="390.0" fill="#333">POW(6)</text>
<text x="555.5" y="390.0" fill="#333">IOW(5)</text>
<text x="609" y="392.0" fill="#fff" font-weight="bold">JOH(76)</text>
<text x="661.6" y="376.6" fill="#333">CED(9)</text>
<text x="720.3" y="397.0" fill="#fff" font-weight="bold">SCO(21)</text>
<text x="667.8" y="420.7" fill="#fff" font-weight="bold">MUS(18)</text>
<text x="159.6" y="443.0" fill="#333">POT(5)</text>
<text x="281.5" y="443.0" fill="#333">ADA(1)</text>
<text x="334.3" y="443.0" fill="#333">MAD(1)</text>
<text x="385.4" y="443.0" fill="#333">WAR(4)</text>
<text x="490.5" y="443.0" fill="#333">MAH(2)</text>
<text x="543" y="443.0" fill="#333">KEO(1)</text>
<text x="595.4" y="443.0" fill="#fff" font-weight="bold">WAS(34)</text>
<text x="204.3" y="489.6" fill="#333">MON(1)</text>
<text x="516.8" y="489.6" fill="#333">WAP(1)</text>
<text x="615.5" y="495.5" fill="#333">HEN(5)</text>
<text x="657.5" y="504.5" fill="#333">DES(2)</text>
<text x="204.5" y="533.0" fill="#333">PAG(2)</text>
<text x="257" y="533.0" fill="#333">TAY(1)</text>
<text x="464.2" y="532.2" fill="#333">APP(1)</text>
<text x="569.5" y="531.0" fill="#333">VAN(2)</text>
</g>
<rect x="763.5" y="513.5" width="38" height="72" fill="#f8f8f8" stroke="#e2e2e2" stroke-width="1"/>
<g stroke="#595959" stroke-width="2"><path d="M774.6 531 H790.4 M782.5 523.1 V538.9"/><path d="M774.6 564.8 H790.4"/></g>
<rect x="444" y="593" width="354" height="17.5" fill="#fafafa" fill-opacity="0.85"/>
<text x="449" y="607" font-family="Liberation Sans, sans-serif" font-size="14.3" fill="#5a5a5a" textLength="328" lengthAdjust="spacingAndGlyphs">County of Story, Iowa DNR, Esri, HERE, Gar…</text>
</svg></div>
</div>
<div class="box" id="cases"><div class="h">Confirmed Cases</div><div class="n">549</div><div class="upd" style="top:59px">Last update: a minute ago</div></div>
<div class="box" id="list"><div class="hd">Counties</div>
<svg style="position:absolute;left:18.1px;top:62.9px" width="30" height="30" viewBox="0 0 30 30"><polygon points="1,1 26.7,13.7 26.7,26.7 1,26.7" fill="#a50f15" stroke="#6e2a2a" stroke-width="0.9"/></svg>
<span class="rt" style="top:65.5px;letter-spacing:-0.15px">Linn - 94</span>
<div class="sep" style="top:108px"></div>
<svg style="position:absolute;left:18.1px;top:126.9px" width="30" height="30" viewBox="0 0 30 30"><polygon points="1,1 26.7,13.7 26.7,26.7 1,26.7" fill="#a50f15" stroke="#6e2a2a" stroke-width="0.9"/></svg>
<span class="rt" style="top:129.2px;letter-spacing:-0.40px">Polk - 81</span>
<div class="sep" style="top:171px"></div>
<svg style="position:absolute;left:18.1px;top:190.9px" width="30" height="30" viewBox="0 0 30 30"><polygon points="1,1 26.7,13.7 26.7,26.7 1,26.7" fill="#a50f15" stroke="#6e2a2a" stroke-width="0.9"/></svg>
<span class="rt" style="top:192.9px;letter-spacing:0.00px">Johnson - 76</span>
<div class="sep" style="top:235px"></div>
<svg style="position:absolute;left:18.1px;top:254.9px" width="30" height="30" viewBox="0 0 30 30"><polygon points="1,1 26.7,13.7 26.7,26.7 1,26.7" fill="#de2d26" stroke="#6e2a2a" stroke-width="0.9"/></svg>
<span class="rt" style="top:256.6px;letter-spacing:0.00px">Washington - 34</span>
<div class="sep" style="top:299px"></div>
<svg style="position:absolute;left:18.1px;top:318.9px" width="30" height="30" viewBox="0 0 30 30"><polygon points="1,1 26.7,13.7 26.7,26.7 1,26.7" fill="#de2d26" stroke="#6e2a2a" stroke-width="0.9"/></svg>
<span class="rt" style="top:320.3px;letter-spacing:-0.30px">Dallas - 27</span>
<div class="sep" style="top:363px"></div>
<svg style="position:absolute;left:18.1px;top:382.9px" width="30" height="30" viewBox="0 0 30 30"><polygon points="1,1 26.7,13.7 26.7,26.7 1,26.7" fill="#fb6a4a" stroke="#6e2a2a" stroke-width="0.9"/></svg>
<span class="rt" style="top:384.0px;letter-spacing:0.13px">Dubuque - 22</span>
<div id="track"></div><div id="thumb"></div>
<div style="position:absolute;left:0;top:422px;width:220px;height:20px;background:#fff"></div>
<div class="upd" style="top:425px">Last update: a minute ago</div>
</div>
</body></html>
